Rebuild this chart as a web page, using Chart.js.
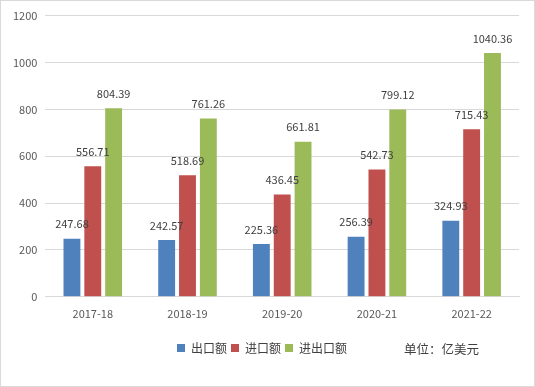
<!DOCTYPE html>
<html>
<head>
<meta charset="utf-8">
<script src="https://cdn.jsdelivr.net/npm/chart.js@4/dist/chart.umd.min.js"></script>
<style>
  body { margin: 0; background: #fff; }
  #wrap { width: 533px; height: 385px; border: 1px solid #d9d9d9; }
</style>
</head>
<body>
<div id="wrap"><canvas id="myChart" width="533" height="385"></canvas></div>
<script>
var years = ['2017-18', '2018-19', '2019-20', '2020-21', '2021-22'];
var exportVals = [247.68, 242.57, 225.36, 256.39, 324.93];
var importVals = [556.71, 518.69, 436.45, 542.73, 715.43];
var totalVals = [804.39, 761.26, 661.81, 799.12, 1040.36];
var yTicks = [0, 200, 400, 600, 800, 1000, 1200];
var unitText = '单位：亿美元';

var font = '"Noto Sans CJK SC", "Noto Sans", sans-serif';

// value labels above each bar
var barLabels = {
    id: 'barLabels',
    afterDatasetsDraw: function(chart) {
        var c = chart.ctx;
        c.save();
        c.font = '11px ' + font;
        c.fillStyle = '#404040';
        c.textAlign = 'center';
        c.textBaseline = 'bottom';
        chart.data.datasets.forEach(function(ds, i) {
            chart.getDatasetMeta(i).data.forEach(function(bar, j) {
                c.fillText(ds.data[j].toFixed(2), bar.x, bar.y - 9);
            });
        });
        c.restore();
    }
};

// unit note next to the legend
var unitNote = {
    id: 'unitNote',
    afterDraw: function(chart) {
        var lg = chart.legend;
        var c = chart.ctx;
        c.save();
        c.font = '12.5px ' + font;
        c.fillStyle = '#404040';
        c.textAlign = 'left';
        c.textBaseline = 'middle';
        c.fillText(unitText, 403, lg.top + lg.height / 2 - 2);
        c.restore();
    }
};

var ctx = document.getElementById('myChart');
var myChart = new Chart(ctx, {
    type: 'bar',
    data: {
        labels: years,
        datasets: [
            { label: '出口额', data: exportVals, backgroundColor: '#4F81BD' },
            { label: '进口额', data: importVals, backgroundColor: '#C0504D' },
            { label: '进出口额', data: totalVals, backgroundColor: '#9BBB59' }
        ]
    },
    options: {
        responsive: false,
        animation: false,
        categoryPercentage: 0.66,
        barPercentage: 0.81,
        layout: { padding: { top: 8, left: 4, right: 15, bottom: 22 } },
        scales: {
            x: {
                grid: { display: false },
                border: { color: '#d9d9d9' },
                ticks: { color: '#595959', padding: 2, font: { size: 11, family: font } },
                afterFit: function(axis) { axis.height += 16; }
            },
            y: {
                min: 0,
                max: 1200,
                afterBuildTicks: function(axis) {
                    axis.ticks = yTicks.map(function(v) { return { value: v }; });
                },
                grid: { color: '#d9d9d9', drawTicks: false },
                border: { display: false },
                ticks: {
                    color: '#595959',
                    padding: 8,
                    font: { size: 11, family: font },
                    callback: function(v) { return String(v); }
                }
            }
        },
        plugins: {
            legend: {
                position: 'bottom',
                labels: {
                    boxWidth: 8,
                    boxHeight: 8,
                    padding: 4,
                    color: '#404040',
                    font: { size: 12, family: font }
                }
            },
            tooltip: { enabled: false }
        }
    },
    plugins: [barLabels, unitNote]
});
</script>
</body>
</html>
